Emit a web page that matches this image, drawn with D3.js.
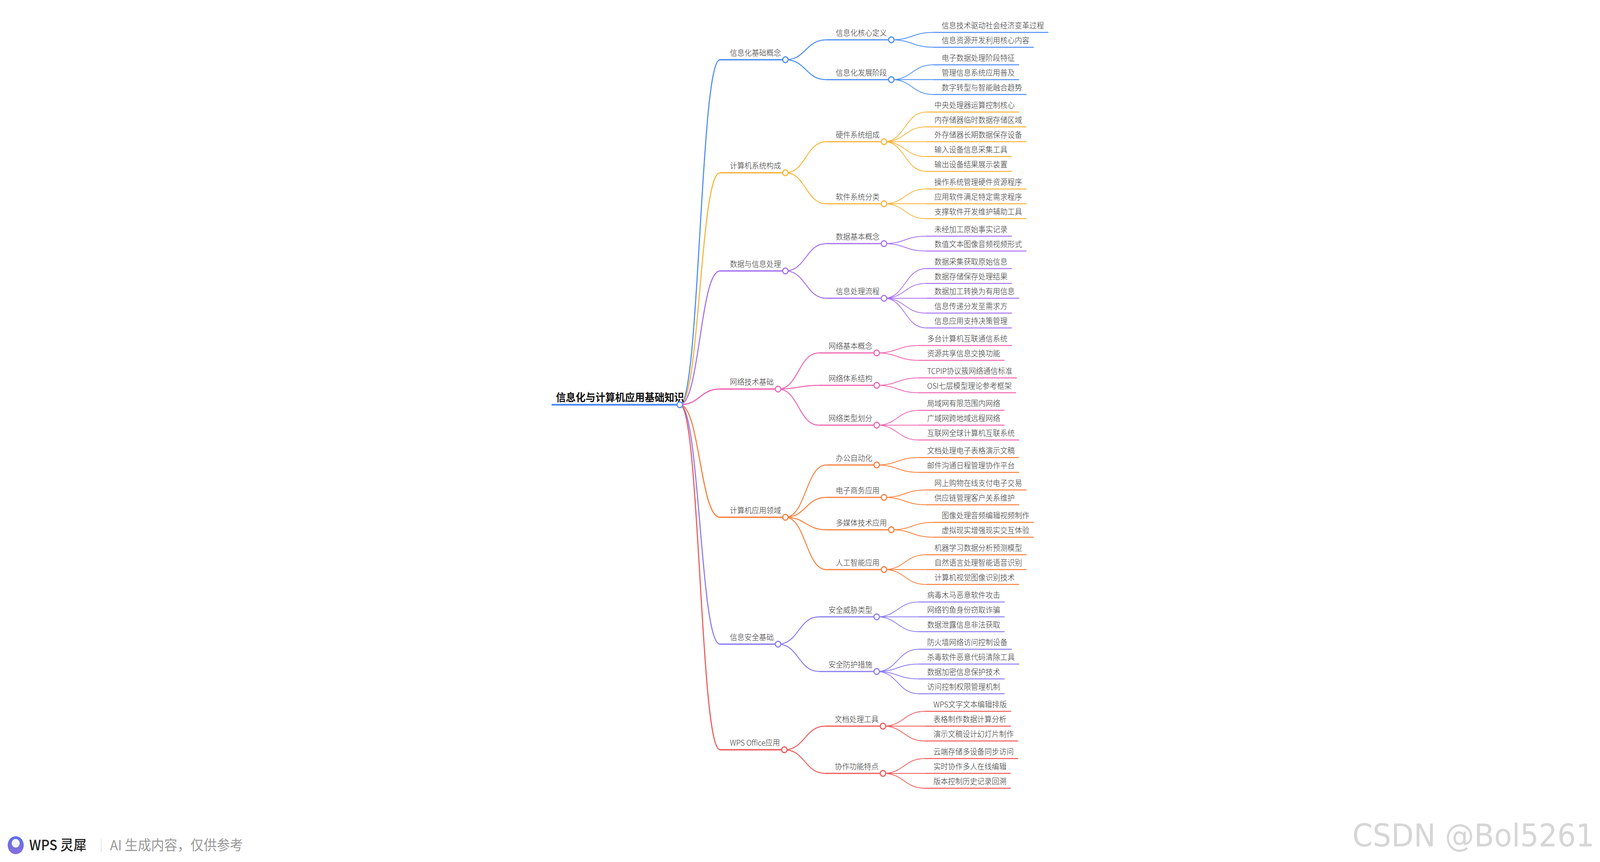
<!DOCTYPE html>
<html><head><meta charset="utf-8">
<script src="https://cdn.jsdelivr.net/npm/d3@7/dist/d3.min.js"></script>
<style>html,body{margin:0;padding:0;background:#fff;overflow:hidden;width:100%;height:100%}svg{display:block;width:100vw;height:100vh}</style>
</head><body>
<svg id="c" viewBox="0 0 4380 2208" preserveAspectRatio="none"></svg>
<script>
const rootTitle = "信息化与计算机应用基础知识";
const branchNames = ["信息化基础概念","计算机系统构成","数据与信息处理","网络技术基础","计算机应用领域","信息安全基础","WPS Office应用"];
const branchColors = ["#4a8cf7","#f9b43a","#a671f0","#ef64b1","#f97e3b","#8a7cf0","#ef5656"];
const subNames = [
 ["信息化核心定义","信息化发展阶段"],
 ["硬件系统组成","软件系统分类"],
 ["数据基本概念","信息处理流程"],
 ["网络基本概念","网络体系结构","网络类型划分"],
 ["办公自动化","电子商务应用","多媒体技术应用","人工智能应用"],
 ["安全威胁类型","安全防护措施"],
 ["文档处理工具","协作功能特点"]
];
const leafNames = [
 [["信息技术驱动社会经济变革过程","信息资源开发利用核心内容"],["电子数据处理阶段特征","管理信息系统应用普及","数字转型与智能融合趋势"]],
 [["中央处理器运算控制核心","内存储器临时数据存储区域","外存储器长期数据保存设备","输入设备信息采集工具","输出设备结果展示装置"],["操作系统管理硬件资源程序","应用软件满足特定需求程序","支撑软件开发维护辅助工具"]],
 [["未经加工原始事实记录","数值文本图像音频视频形式"],["数据采集获取原始信息","数据存储保存处理结果","数据加工转换为有用信息","信息传递分发至需求方","信息应用支持决策管理"]],
 [["多台计算机互联通信系统","资源共享信息交换功能"],["TCPIP协议簇网络通信标准","OSI七层模型理论参考框架"],["局域网有限范围内网络","广域网跨地域远程网络","互联网全球计算机互联系统"]],
 [["文档处理电子表格演示文稿","邮件沟通日程管理协作平台"],["网上购物在线支付电子交易","供应链管理客户关系维护"],["图像处理音频编辑视频制作","虚拟现实增强现实交互体验"],["机器学习数据分析预测模型","自然语言处理智能语音识别","计算机视觉图像识别技术"]],
 [["病毒木马恶意软件攻击","网络钓鱼身份窃取诈骗","数据泄露信息非法获取"],["防火墙网络访问控制设备","杀毒软件恶意代码清除工具","数据加密信息保护技术","访问控制权限管理机制"]],
 [["WPS文字文本编辑排版","表格制作数据计算分析","演示文稿设计幻灯片制作"],["云端存储多设备同步访问","实时协作多人在线编辑","版本控制历史记录回溯"]]
];

const svg = d3.select("#c");
const FONT = "'Noto Sans CJK SC','Noto Sans',sans-serif";
const gLinks = svg.append("g"), gText = svg.append("g"), gNodes = svg.append("g");

const yScale = d3.scaleLinear().domain([0,1]).range([83,121]);
const gap = 7;
let slot = 0, groups = 0;
const tree = branchNames.map((b,i)=>{
  const subs = subNames[i].map((s,j)=>{
    const leaves = leafNames[i][j].map(l=>{ const y = yScale(slot) + groups*gap; slot++; return {name:l,y}; });
    groups++;
    return {name:s,leaves,y:(leaves[0].y+leaves[leaves.length-1].y)/2};
  });
  return {name:b,subs,color:branchColors[i],y:(subs[0].y+subs[subs.length-1].y)/2};
});
const rootY = (tree[0].y+tree[tree.length-1].y)/2;

function measure(t,size,weight){
  const n = gText.append("text").attr("font-family",FONT).attr("font-size",size).attr("font-weight",weight).text(t);
  const w = n.node().getComputedTextLength(); n.remove(); return w;
}
const link = d3.linkHorizontal().x(d=>d[0]).y(d=>d[1]);
function label(x,y,t,size,weight,fill){
  gText.append("text").attr("x",x).attr("y",y).attr("font-family",FONT).attr("font-size",size)
   .attr("font-weight",weight).attr("fill",fill).text(t);
}
function circle(x,y,c){ gNodes.append("circle").attr("cx",x).attr("cy",y).attr("r",7.5).attr("fill","#fff").attr("stroke",c).attr("stroke-width",3); }

const rootTextX = 1522, rootCx = 1861;
label(rootTextX, rootY-9, rootTitle, 27, 700, "#111");
gLinks.append("line").attr("x1",1510).attr("x2",rootCx).attr("y1",rootY).attr("y2",rootY).attr("stroke","#4a8cf7").attr("stroke-width",4.5);

const TS = 20;
tree.forEach(b=>{
  const c = b.color;
  const bx = rootCx + 110, btx = rootCx + 137;
  const bcx = btx + measure(b.name,TS,300) + 12;
  gLinks.append("path").attr("d",link({source:[rootCx,rootY],target:[bx,b.y]})).attr("fill","none").attr("stroke",c).attr("stroke-width",3);
  gLinks.append("line").attr("x1",bx).attr("x2",bcx).attr("y1",b.y).attr("y2",b.y).attr("stroke",c).attr("stroke-width",3.5);
  label(btx,b.y-10,b.name,TS,300,"#333");
  b.subs.forEach(s=>{
    const sx = bcx + 112, stx = bcx + 138;
    const scx = stx + measure(s.name,TS,300) + 12;
    gLinks.append("path").attr("d",link({source:[bcx,b.y],target:[sx,s.y]})).attr("fill","none").attr("stroke",c).attr("stroke-width",2.5);
    gLinks.append("line").attr("x1",sx).attr("x2",scx).attr("y1",s.y).attr("y2",s.y).attr("stroke",c).attr("stroke-width",3);
    label(stx,s.y-10,s.name,TS,300,"#333");
    s.leaves.forEach(l=>{
      const lx = scx + 115, ltx = scx + 138;
      const lend = ltx + measure(l.name,TS,300) + 12;
      gLinks.append("path").attr("d",link({source:[scx,s.y],target:[lx,l.y]})).attr("fill","none").attr("stroke",c).attr("stroke-width",2);
      gLinks.append("line").attr("x1",lx).attr("x2",lend).attr("y1",l.y).attr("y2",l.y).attr("stroke",c).attr("stroke-width",2.5);
      label(ltx,l.y-10,l.name,TS,300,"#333");
    });
    circle(scx,s.y,c);
  });
  circle(bcx,b.y,c);
});
circle(rootCx,rootY,"#4a8cf7");

const defs = svg.append("defs");
const gr = defs.append("linearGradient").attr("id","lg").attr("x1",0).attr("y1",0).attr("x2",0).attr("y2",1);
gr.append("stop").attr("offset","0").attr("stop-color","#5b6ee8");
gr.append("stop").attr("offset","1").attr("stop-color","#8a6fd8");
svg.append("ellipse").attr("cx",43).attr("cy",2165).attr("rx",22).attr("ry",23).attr("fill","url(#lg)");
svg.append("circle").attr("cx",43).attr("cy",2160).attr("r",11).attr("fill","#f4f4f8");
svg.append("text").attr("x",80).attr("y",2178).attr("font-family","'Noto Sans CJK SC',sans-serif").attr("font-size",36).attr("font-weight",500).attr("fill","#222").text("WPS 灵犀");
svg.append("line").attr("x1",277).attr("x2",277).attr("y1",2147).attr("y2",2183).attr("stroke","#e2e2e2").attr("stroke-width",2);
svg.append("text").attr("x",301).attr("y",2178).attr("font-family","'Noto Sans CJK SC',sans-serif").attr("font-size",36).attr("fill","#999").text("AI 生成内容，仅供参考");
svg.append("text").attr("x",4365).attr("y",2168).attr("text-anchor","end").attr("font-family","'DejaVu Sans',sans-serif").attr("font-size",80).attr("fill","#d6d6d6").text("CSDN @Bol5261");
</script>
</body></html>
